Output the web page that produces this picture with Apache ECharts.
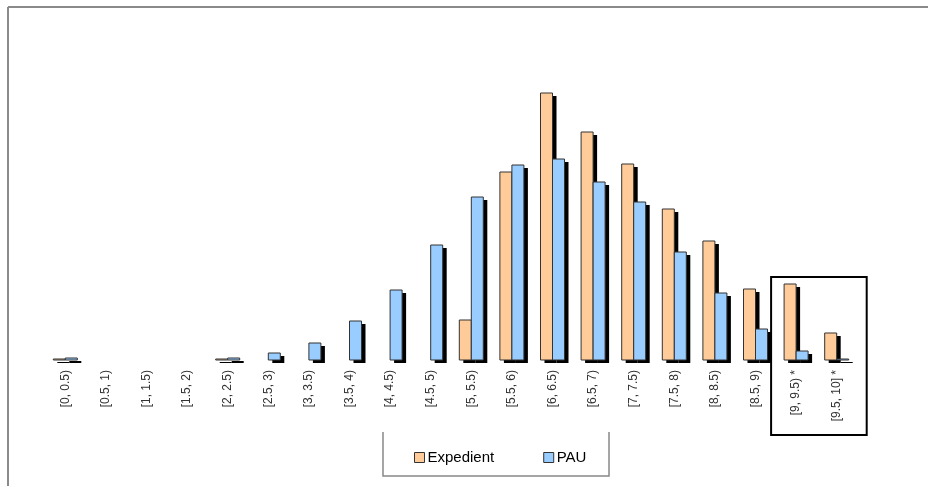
<!DOCTYPE html>
<html>
<head>
<meta charset="utf-8">
<script src="https://cdn.jsdelivr.net/npm/echarts@6/dist/echarts.min.js"></script>
<style>html,body{margin:0;padding:0;background:#fff}#c{width:928px;height:486px}</style>
</head>
<body>
<div id="c"></div>
<script>
const categories = ['[0, 0.5)','[0.5, 1)','[1, 1.5)','[1.5, 2)','[2, 2.5)','[2.5, 3)','[3, 3.5)','[3.5, 4)','[4, 4.5)','[4.5, 5)',
  '[5, 5.5)','[5.5, 6)','[6, 6.5)','[6.5, 7)','[7, 7.5)','[7.5, 8)','[8, 8.5)','[8.5, 9)','[9, 9.5) *','[9.5, 10] *'];
const expedient = [0.1,0,0,0,0.1,0,0,0,0,0,4.0,18.8,26.7,22.8,19.6,15.1,11.9,7.1,7.6,2.7];
const pau       = [0.2,0,0,0,0.2,0.7,1.7,3.9,7.0,11.5,16.3,19.5,20.1,17.8,15.8,10.8,6.7,3.1,0.9,0.1];

const FONT = '"Liberation Sans", Arial, sans-serif';
const BAR_W = 12;
const chart = echarts.init(document.getElementById('c'), null, {renderer:'canvas'});

function makeRender(side, color) {
  return function (params, api) {
    const v = api.value(1);
    if (!v) return null;
    const top = api.coord([api.value(0), v]);
    const base = api.coord([api.value(0), 0]);
    const x = side === 0 ? top[0] - BAR_W : top[0];
    const h = Math.max(base[1] - top[1], 1);
    return {
      type: 'group',
      children: [
        {type: 'rect', shape: {x: x + 4, y: top[1] + 3, width: BAR_W, height: h},
         style: {fill: '#000'}},
        {type: 'rect', shape: {x: x, y: top[1], width: BAR_W, height: h},
         style: {fill: color, stroke: '#333', lineWidth: 1}}
      ]
    };
  };
}
const seriesData = arr => arr.map((v, i) => [i, v]);

chart.setOption({
  backgroundColor: '#fff',
  animation: false,
  grid: {left: 45, right: 71, top: 60, bottom: 126},
  xAxis: {
    type: 'category', data: categories,
    axisLine: {show: false}, axisTick: {show: false},
    axisLabel: {rotate: 90, margin: 10, fontSize: 12, color: '#333', fontFamily: FONT, interval: 0}
  },
  yAxis: {type: 'value', min: 0, max: 30, show: false, splitLine: {show: false}},
  legend: {
    left: 409, top: 445, itemWidth: 10, itemHeight: 10, itemGap: 49, icon: 'rect',
    textStyle: {fontSize: 15, color: '#000', fontFamily: FONT, padding: [0,0,0,-2]},
    itemStyle: {borderColor: '#333', borderWidth: 1}
  },
  series: [
    {name: 'Expedient', type: 'custom', data: seriesData(expedient), renderItem: makeRender(0, '#FFCC99'),
     itemStyle: {color: '#FFCC99'}, encode: {x: 0, y: 1}},
    {name: 'PAU', type: 'custom', data: seriesData(pau), renderItem: makeRender(1, '#99CCFF'),
     itemStyle: {color: '#99CCFF'}, encode: {x: 0, y: 1}}
  ]
});
const x18 = chart.convertToPixel({xAxisIndex: 0}, categories[18]);
const x19 = chart.convertToPixel({xAxisIndex: 0}, categories[19]);
chart.setOption({
  graphic: [
    {type: 'line', shape: {x1: 8, y1: 7, x2: 928, y2: 7}, style: {stroke: '#8a8a8a', lineWidth: 2}},
    {type: 'line', shape: {x1: 8, y1: 7, x2: 8, y2: 486}, style: {stroke: '#8a8a8a', lineWidth: 2}},
    {type: 'polyline', shape: {points: [[383, 432], [383, 476], [609, 476], [609, 432]]}, style: {stroke: '#888', lineWidth: 1.5, fill: null}},
    {type: 'rect', shape: {x: x18 - 25, y: 277, width: (x19 - x18) + 55, height: 158}, style: {stroke: '#000', lineWidth: 2, fill: null}}
  ]
});
</script>
</body>
</html>
